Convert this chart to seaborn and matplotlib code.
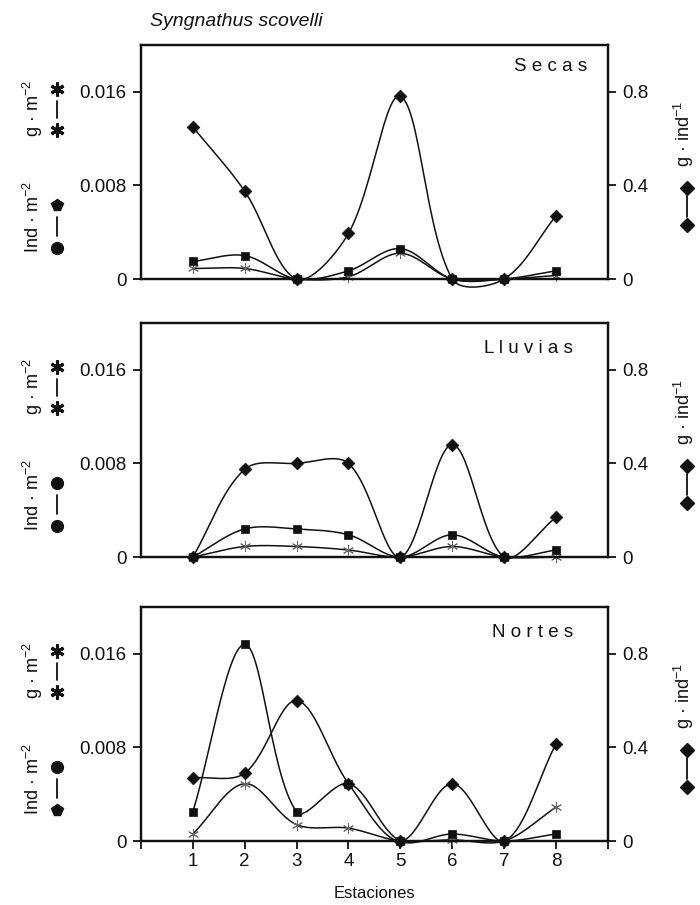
import numpy as np
import pandas as pd
import matplotlib
matplotlib.use("Agg")
import matplotlib.pyplot as plt
import seaborn as sns

# Sampling stations
stations = [1, 2, 3, 4, 5, 6, 7, 8]

# Secas (dry season)
secas_ind = [0.0015, 0.0020, 0.0, 0.0007, 0.0026, 0.0, 0.0, 0.0007]
secas_gm2 = [0.0009, 0.0009, 0.0, 0.0002, 0.0022, 0.0, 0.0, 0.0003]
secas_gind = [0.65, 0.375, 0.0, 0.195, 0.78, 0.0, 0.0, 0.27]

# Lluvias (rainy season)
lluvias_ind = [0.0, 0.0024, 0.0024, 0.0019, 0.0, 0.0019, 0.0, 0.0006]
lluvias_gm2 = [0.0, 0.0009, 0.0009, 0.0006, 0.0, 0.0009, 0.0, 0.0]
lluvias_gind = [0.0, 0.375, 0.40, 0.40, 0.0, 0.48, 0.0, 0.17]

# Nortes (northerly-wind season)
nortes_ind = [0.0025, 0.0168, 0.0025, 0.0049, 0.0, 0.0006, 0.0, 0.0006]
nortes_gm2 = [0.0006, 0.0049, 0.0014, 0.0011, 0.0, 0.0001, 0.0, 0.0029]
nortes_gind = [0.27, 0.29, 0.60, 0.245, 0.0, 0.245, 0.0, 0.415]

season_names = ["S e c a s", "L l u v i a s", "N o r t e s"]
left_ticks = [0, 0.008, 0.016]
left_ticklabels = ["0", "0.008", "0.016"]
right_ticks = [0, 0.4, 0.8]
right_ticklabels = ["0", "0.4", "0.8"]
x_ticklabels = [""] + [str(s) for s in stations] + [""]

LEFT_MAX = 0.02
RIGHT_MAX = 1.0

sns.set_style("ticks")
plt.rcParams["font.family"] = ["Liberation Sans", "DejaVu Sans"]
plt.rcParams["mathtext.fontset"] = "custom"
plt.rcParams["mathtext.rm"] = "Liberation Sans"
plt.rcParams["mathtext.it"] = "Liberation Sans:italic"
plt.rcParams["mathtext.bf"] = "Liberation Sans:bold"


def smooth(xs, ys, ymax, n=30):
    """Smoothed line through every point; tangents are weighted by the
    on-screen lengths of neighbouring segments so flat runs next to steep
    drops do not overshoot much."""
    # screen scaling: ~52 px per station, 234 px for the full y range
    sxs, sys_ = 52.0, 234.0 / ymax
    x = np.asarray(xs, float)
    y = np.asarray(ys, float)
    m = len(x)
    P = np.column_stack([x * sxs, y * sys_])
    d = np.hypot(*np.diff(P, axis=0).T)
    out = []
    t = np.linspace(0, 1, n, endpoint=False)[:, None]
    for i in range(m - 1):
        # control point leaving point i
        if i == 0:
            c1 = P[0] + (P[1] - P[0]) / 3
        else:
            s = d[i - 1] + d[i]
            w = d[i] / s if s > 0 else 0.5
            c1 = P[i] + (P[i + 1] - P[i - 1]) * w / 3
        # control point entering point i+1
        if i + 1 == m - 1:
            c2 = P[i + 1] - (P[i + 1] - P[i]) / 3
        else:
            s = d[i] + d[i + 1]
            w = d[i] / s if s > 0 else 0.5
            c2 = P[i + 1] - (P[i + 2] - P[i]) * w / 3
        seg = ((1 - t) ** 3) * P[i] + 3 * (1 - t) ** 2 * t * c1 \
            + 3 * (1 - t) * t ** 2 * c2 + t ** 3 * P[i + 1]
        out.append(seg)
    out.append(P[-1][None, :])
    out = np.vstack(out)
    return out[:, 0] / sxs, out[:, 1] / sys_


panels = [
    (secas_ind, secas_gm2, secas_gind),
    (lluvias_ind, lluvias_gm2, lluvias_gind),
    (nortes_ind, nortes_gm2, nortes_gind),
]
bottoms = [0.6917, 0.3845, 0.0707]
title_pos = [(0.955, 0.91), (0.925, 0.893), (0.925, 0.893)]
ind_markers = [("p", "o"), ("o", "o"), ("o", "p")]

fig = plt.figure(figsize=(7, 9.05), dpi=100)
fig.patch.set_facecolor("white")

LINE = "#111111"
for k, (ind, gm2, gind) in enumerate(panels):
    ax = fig.add_axes([0.2014, bottoms[k], 0.667, 0.2586])
    ax2 = ax.twinx()

    # Left axis series: individuals per m2 (squares) and grams per m2 (asterisks)
    sx, sy = smooth(stations, gm2, LEFT_MAX)
    sns.lineplot(x=sx, y=sy, ax=ax, color=LINE, lw=1.1, sort=False,
                 estimator=None, clip_on=False)
    sx, sy = smooth(stations, ind, LEFT_MAX)
    sns.lineplot(x=sx, y=sy, ax=ax, color=LINE, lw=1.1, sort=False,
                 estimator=None, clip_on=False)
    sns.scatterplot(x=stations, y=gm2, ax=ax, marker=(6, 2, 0), s=55,
                    color="#666666", linewidth=0.7, zorder=4, clip_on=False)
    sns.scatterplot(x=stations, y=ind, ax=ax, marker="s", s=30,
                    color=LINE, edgecolor=LINE, linewidth=0.5, zorder=5,
                    clip_on=False)

    # Right axis series: grams per individual (diamonds)
    sx, sy = smooth(stations, gind, RIGHT_MAX)
    sns.lineplot(x=sx, y=sy, ax=ax2, color=LINE, lw=1.1, sort=False,
                 estimator=None, clip_on=False)
    sns.scatterplot(x=stations, y=gind, ax=ax2, marker="D", s=42,
                    color=LINE, edgecolor=LINE, linewidth=0.5, zorder=5,
                    clip_on=False)

    ax.set_xlim(0, 9)
    ax.set_ylim(0, LEFT_MAX)
    ax2.set_ylim(0, RIGHT_MAX)
    ax.set_yticks(left_ticks)
    ax.set_yticklabels(left_ticklabels)
    ax2.set_yticks(right_ticks)
    ax2.set_yticklabels(right_ticklabels)
    ax.set_xticks(range(0, 10))
    if k == 2:
        ax.set_xticklabels(x_ticklabels)
        ax.tick_params(axis="x", length=5.5, width=1.3, pad=3, labelsize=13.5,
                       direction="out", colors="#111111")
        ax.set_xlabel("Estaciones", fontsize=12, labelpad=12, color="#111111")
    else:
        ax.set_xticklabels([])
        ax.tick_params(axis="x", length=0)
        ax.set_xlabel("")
    ax.set_ylabel("")
    ax2.set_ylabel("")
    ax.tick_params(axis="y", length=5.5, width=1.3, pad=5, labelsize=13.5,
                   direction="out", colors="#111111")
    ax2.tick_params(axis="y", length=5.5, width=1.3, pad=5, labelsize=13.5,
                    direction="out", colors="#111111")
    for a in (ax, ax2):
        for sp in a.spines.values():
            sp.set_visible(True)
            sp.set_linewidth(1.6)
            sp.set_color("#111111")

    ax2.text(title_pos[k][0], title_pos[k][1], season_names[k], transform=ax.transAxes,
             ha="right", va="center", fontsize=13.5, color="#111111")

    # Axis keys: rotated unit labels with their marker symbols
    ax.text(-0.232, 0.73, r"g · m$^{-2}$", rotation=90, transform=ax.transAxes,
            ha="center", va="center", fontsize=13, color="#111111")
    ax.text(-0.232, 0.265, r"Ind · m$^{-2}$", rotation=90, transform=ax.transAxes,
            ha="center", va="center", fontsize=13, color="#111111")
    ax2.text(1.163, 0.62, r"g · ind$^{-1}$", rotation=90, transform=ax.transAxes,
             ha="center", va="center", fontsize=13, color="#111111")

    kx = -0.180
    ax.plot([kx, kx], [0.69, 0.76], transform=ax.transAxes, color="#111111",
            lw=1.3, clip_on=False)
    for yy in (0.812, 0.637):
        ax.plot([kx], [yy], transform=ax.transAxes, marker=(6, 2, 0), ms=10,
                mew=2.2, color="#111111", clip_on=False)
    ax.plot([kx, kx], [0.185, 0.265], transform=ax.transAxes, color="#111111",
            lw=1.3, clip_on=False)
    for yy, mk in zip((0.316, 0.132), ind_markers[k]):
        ax.plot([kx], [yy], transform=ax.transAxes, marker=mk, ms=8.5,
                color="#111111", clip_on=False)
    rx = 1.170
    ax2.plot([rx, rx], [0.265, 0.355], transform=ax.transAxes, color="#111111",
             lw=1.3, clip_on=False)
    for yy in (0.389, 0.231):
        ax2.plot([rx], [yy], transform=ax.transAxes, marker="D", ms=7.5,
                 color="#111111", clip_on=False)

fig.text(150 / 700, 1 - 22 / 905, "Syngnathus scovelli", style="italic",
         fontsize=14, ha="left", va="center", color="#111111")

fig.savefig("out.png", dpi=100, facecolor="white")
